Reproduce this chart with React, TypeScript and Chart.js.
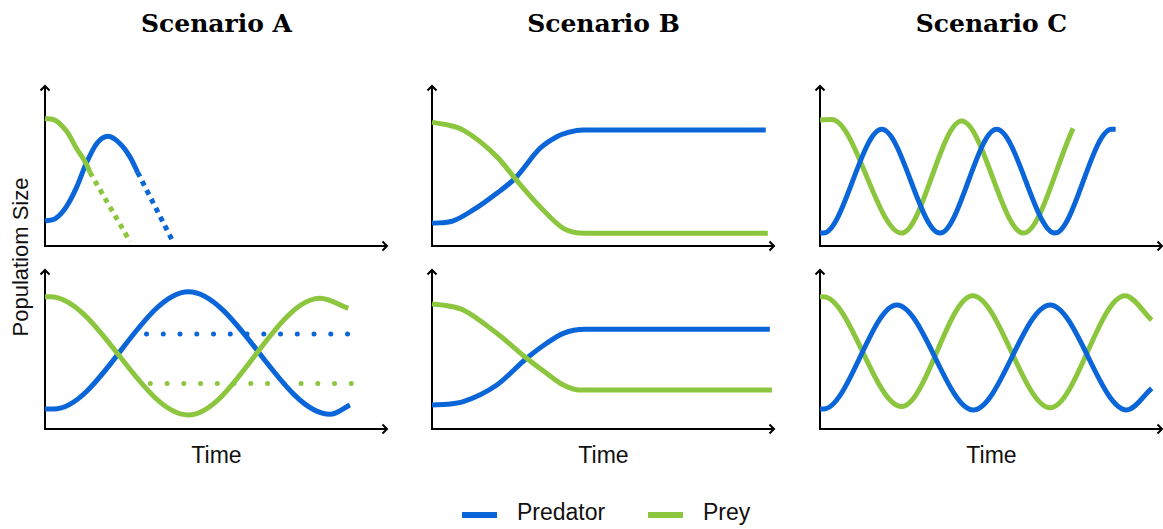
import React, { useEffect, useRef } from 'react';
import { Chart, registerables } from 'chart.js';

Chart.register(...registerables);

const PREDATOR = '#0a66d8';
const PREY = '#8cc63f';

const scenarioTitles = ['Scenario A', 'Scenario B', 'Scenario C'];
const legendLabels = ['Predator', 'Prey'];
const xAxisLabel = 'Time';
const yAxisLabel = 'Populatiom Size';

// ---- Scenario A, top (extinction) ----
const aTopPredX = [0, 0.29, 0.61, 0.92, 1.2, 1.51, 1.84, 2.19, 2.48, 2.7];
const aTopPredY = [1.56, 1.69, 2.4, 3.64, 5.12, 6.37, 6.81, 6.35, 5.52, 4.58];
const aTopPredDropX = [2.7, 3.73];
const aTopPredDropY = [4.58, 0.27];
const aTopPreyX = [0, 0.29, 0.63, 0.92, 1.2, 1.31];
const aTopPreyY = [7.92, 7.81, 7.12, 6.06, 5.12, 4.58];
const aTopPreyDropX = [1.31, 2.48];
const aTopPreyDropY = [4.58, 0.27];

// ---- Scenario A, bottom (peaks, troughs and ends) ----
const aBotPredX = [0, 0.25, 4.18, 8.31, 8.89];
const aBotPredY = [1.25, 1.25, 8.58, 0.92, 1.5];
const aBotPreyX = [0, 0.15, 4.18, 8.02, 8.84];
const aBotPreyY = [8.27, 8.27, 0.88, 8.17, 7.54];
const aBotPredMeanX = [2.96, 8.84];
const aBotPredMeanY = [5.94, 5.94];
const aBotPreyMeanX = [3.07, 8.95];
const aBotPreyMeanY = [2.85, 2.85];

// ---- Scenario B, top ----
const bTopPredX = [0, 0.6, 1.2, 1.89, 2.42, 3.15, 3.64, 4.0, 4.4, 9.73];
const bTopPredY = [1.41, 1.55, 2.24, 3.28, 4.2, 6.07, 6.79, 7.07, 7.2, 7.2];
const bTopPreyX = [0, 0.45, 0.91, 1.89, 2.42, 3.15, 3.83, 4.45, 9.79];
const bTopPreyY = [7.68, 7.52, 7.2, 5.55, 4.2, 2.44, 1.1, 0.79, 0.79];

// ---- Scenario B, bottom ----
const bBotPredX = [0, 0.45, 0.91, 1.89, 2.76, 3.34, 3.83, 4.45, 9.85];
const bBotPredY = [1.5, 1.55, 1.71, 2.75, 4.42, 5.36, 5.98, 6.23, 6.23];
const bBotPreyX = [0, 0.45, 0.91, 1.89, 2.76, 3.34, 3.83, 4.31, 9.91];
const bBotPreyY = [7.81, 7.7, 7.44, 5.98, 4.42, 3.48, 2.75, 2.44, 2.44];

// ---- Scenario C, top (peaks, troughs and ends) ----
const cTopPredX = [0, 0.1, 1.8, 3.5, 5.15, 6.85, 8.5, 8.62];
const cTopPredY = [0.8, 0.8, 7.25, 0.8, 7.25, 0.8, 7.25, 7.25];
const cTopPreyX = [0, 0.34, 2.38, 4.13, 5.93, 7.38];
const cTopPreyY = [7.83, 7.85, 0.8, 7.76, 0.8, 7.31];

// ---- Scenario C, bottom (peaks, troughs and ends) ----
const cBotPredX = [0, 0.1, 2.24, 4.47, 6.71, 8.94, 9.67];
const cBotPredY = [1.25, 1.25, 7.75, 1.19, 7.75, 1.19, 2.54];
const cBotPreyX = [0, 0.1, 2.38, 4.45, 6.71, 8.89, 9.67];
const cBotPreyY = [8.27, 8.27, 1.4, 8.33, 1.33, 8.33, 6.81];

// ---- layout ----
const PAD = 10;
const COL_LEFTS = [45, 432, 820];
const BOX_W = 343;
const ROW_TOPS = [85, 269];
const ROW_H = [161, 160];

type Line = { xs: number[]; ys: number[]; color: string; style?: 'dash' | 'dot' };

const pts = (xs: number[], ys: number[]) => xs.map((x, i) => ({ x, y: ys[i] }));

const axisArrows = {
  id: 'axisArrows',
  beforeDatasetsDraw(chart: any) {
    const { ctx, chartArea } = chart;
    const { left, right, top, bottom } = chartArea;
    ctx.save();
    ctx.strokeStyle = '#000';
    ctx.lineWidth = 2;
    ctx.lineCap = 'butt';
    ctx.lineJoin = 'miter';
    ctx.beginPath();
    ctx.moveTo(left, top + 1);
    ctx.lineTo(left, bottom);
    ctx.lineTo(right - 1, bottom);
    ctx.stroke();
    ctx.beginPath();
    ctx.moveTo(left - 4.5, top + 5.5);
    ctx.lineTo(left, top + 1);
    ctx.lineTo(left + 4.5, top + 5.5);
    ctx.moveTo(right - 5.5, bottom - 4.5);
    ctx.lineTo(right - 1, bottom);
    ctx.lineTo(right - 5.5, bottom + 4.5);
    ctx.stroke();
    ctx.restore();
  },
};

function Panel({ left, top, height, lines }: { left: number; top: number; height: number; lines: Line[] }) {
  const ref = useRef<HTMLCanvasElement>(null);
  useEffect(() => {
    const datasets = lines.map((l) => ({
      data: pts(l.xs, l.ys),
      borderColor: l.color,
      backgroundColor: l.color,
      borderWidth: 5,
      borderDash: l.style === 'dash' ? [5, 5] : l.style === 'dot' ? [0, 16.75] : [],
      borderCapStyle: l.style === 'dot' ? 'round' : 'butt',
      pointRadius: 0,
      fill: false,
      clip: false as any,
      cubicInterpolationMode: 'monotone' as const,
    }));
    const chart = new Chart(ref.current as HTMLCanvasElement, {
      type: 'line',
      data: { datasets: datasets as any },
      options: {
        animation: false,
        responsive: false,
        maintainAspectRatio: false,
        devicePixelRatio: 1,
        layout: { padding: PAD },
        scales: {
          x: { type: 'linear', min: 0, max: 10, display: false },
          y: { type: 'linear', min: 0, max: 10, display: false },
        },
        plugins: { legend: { display: false }, tooltip: { enabled: false } },
        events: [],
      },
      plugins: [axisArrows],
    });
    return () => chart.destroy();
  }, []);
  return (
    <canvas
      ref={ref}
      width={BOX_W + 2 * PAD}
      height={height + 2 * PAD}
      style={{ position: 'absolute', left: left - PAD, top: top - PAD, width: BOX_W + 2 * PAD, height: height + 2 * PAD }}
    />
  );
}

const panelLines: Line[][][] = [
  [
    [
      { xs: aTopPreyX, ys: aTopPreyY, color: PREY },
      { xs: aTopPreyDropX, ys: aTopPreyDropY, color: PREY, style: 'dash' },
      { xs: aTopPredX, ys: aTopPredY, color: PREDATOR },
      { xs: aTopPredDropX, ys: aTopPredDropY, color: PREDATOR, style: 'dash' },
    ],
    [
      { xs: bTopPreyX, ys: bTopPreyY, color: PREY },
      { xs: bTopPredX, ys: bTopPredY, color: PREDATOR },
    ],
    [
      { xs: cTopPredX, ys: cTopPredY, color: PREDATOR },
      { xs: cTopPreyX, ys: cTopPreyY, color: PREY },
    ],
  ],
  [
    [
      { xs: aBotPreyX, ys: aBotPreyY, color: PREY },
      { xs: aBotPredX, ys: aBotPredY, color: PREDATOR },
      { xs: aBotPredMeanX, ys: aBotPredMeanY, color: PREDATOR, style: 'dot' },
      { xs: aBotPreyMeanX, ys: aBotPreyMeanY, color: PREY, style: 'dot' },
    ],
    [
      { xs: bBotPreyX, ys: bBotPreyY, color: PREY },
      { xs: bBotPredX, ys: bBotPredY, color: PREDATOR },
    ],
    [
      { xs: cBotPredX, ys: cBotPredY, color: PREDATOR },
      { xs: cBotPreyX, ys: cBotPreyY, color: PREY },
    ],
  ],
];

const SANS = '"Liberation Sans", Arial, sans-serif';
const SERIF = '"DejaVu Serif", serif';

export default function App() {
  return (
    <div
      style={{
        position: 'absolute',
        left: 0,
        top: 0,
        width: 1163,
        height: 529,
        background: '#fff',
        overflow: 'hidden',
        fontFamily: SANS,
        color: '#111',
      }}
    >
      {scenarioTitles.map((t, i) => (
        <div
          key={t}
          style={{
            position: 'absolute',
            left: COL_LEFTS[i] + BOX_W / 2 - 150,
            width: 300,
            top: 11,
            textAlign: 'center',
            fontFamily: SERIF,
            fontWeight: 900,
            fontSize: 25,
            lineHeight: '25px',
            color: '#000',
          }}
        >
          {t}
        </div>
      ))}
      {panelLines.map((row, r) =>
        row.map((lines, c) => (
          <Panel key={`${r}-${c}`} left={COL_LEFTS[c]} top={ROW_TOPS[r]} height={ROW_H[r]} lines={lines} />
        ))
      )}
      {COL_LEFTS.map((l, i) => (
        <div
          key={`time-${i}`}
          style={{
            position: 'absolute',
            left: l + BOX_W / 2 - 100,
            width: 200,
            top: 444,
            textAlign: 'center',
            fontSize: 23,
            lineHeight: '23px',
          }}
        >
          {xAxisLabel}
        </div>
      ))}
      <div
        style={{
          position: 'absolute',
          left: 21 - 120,
          top: 257 - 11,
          width: 240,
          textAlign: 'center',
          fontSize: 22,
          lineHeight: '22px',
          transform: 'rotate(-90deg)',
          transformOrigin: '50% 50%',
        }}
      >
        {yAxisLabel}
      </div>
      <div style={{ position: 'absolute', left: 462, top: 512, width: 35, height: 6, background: PREDATOR }} />
      <div style={{ position: 'absolute', left: 517, top: 501, fontSize: 23, lineHeight: '23px', whiteSpace: 'nowrap' }}>
        {legendLabels[0]}
      </div>
      <div style={{ position: 'absolute', left: 648, top: 512, width: 35, height: 6, background: PREY }} />
      <div style={{ position: 'absolute', left: 703, top: 501, fontSize: 23, lineHeight: '23px', whiteSpace: 'nowrap' }}>
        {legendLabels[1]}
      </div>
    </div>
  );
}
